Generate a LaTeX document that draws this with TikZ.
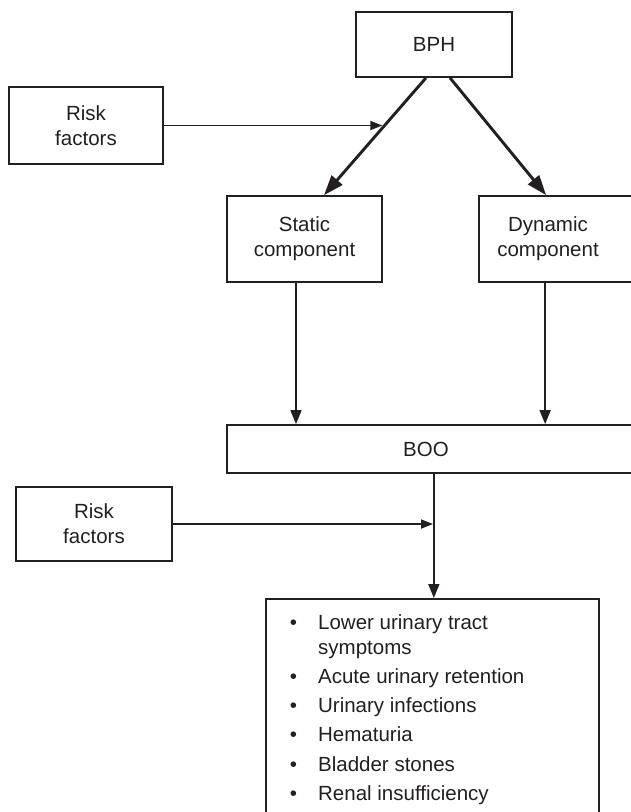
\documentclass[tikz,border=0pt]{standalone}
\usepackage{fontspec}
\setmainfont{Liberation Sans}
\usetikzlibrary{arrows.meta,calc}
\definecolor{ink}{RGB}{35,31,32}
\begin{document}
\begin{tikzpicture}[x=1pt,y=-1pt,
  box/.style={draw=ink, line width=1.7pt, rectangle, inner sep=0pt, text=ink, align=center, font=\fontsize{20.5}{25}\selectfont},
  txt/.style={text=ink, align=center, inner sep=0pt, font=\fontsize{20.5}{25}\selectfont},
  thickarrow/.style={draw=ink, line width=2.9pt, -{Triangle[length=20pt,width=14pt]}},
  thinarrow/.style={draw=ink, line width=1.7pt, -{Triangle[length=14pt,width=11pt]}},
  sidearrow/.style={draw=ink, line width=1.7pt, -{Triangle[length=12pt,width=9pt]}},
]
\useasboundingbox (0,0) rectangle (631,812);
\clip (0,0) rectangle (631,812);

% boxes
\node[box, minimum width=156pt, minimum height=65pt] (bph) at (434,44.5) {BPH};
\node[box, minimum width=154pt, minimum height=77pt] (risk1) at (86,125.5) {Risk\\factors};
\node[box, minimum width=155pt, minimum height=86pt] (static) at (304.5,239) {Static\\component};
\node[box, minimum width=181pt, minimum height=86pt] (dyn) at (569.5,239) {};
\node[txt] (dyntext) at (548,239) {Dynamic\\component};
\node[box, minimum width=433pt, minimum height=48pt] (boo) at (443.5,449) {};
\node[txt] (bootext) at (426,449) {BOO};
\node[box, minimum width=156pt, minimum height=74pt] (risk2) at (94,524) {Risk\\factors};
\node[box, minimum width=333pt, minimum height=240pt, anchor=north west] (eff) at (265,598) {};
\node[txt, anchor=base west, align=left] (efftext) at (289.7,629.3) {%
\renewcommand{\arraystretch}{1}%
\begin{tabular}[t]{@{}l@{\hspace{21.1pt}}l@{}}
\textbullet & Lower urinary tract\\
 & symptoms\\[4.2pt]
\textbullet & Acute urinary retention\\[4.2pt]
\textbullet & Urinary infections\\[4.2pt]
\textbullet & Hematuria\\[4.2pt]
\textbullet & Bladder stones\\[4.2pt]
\textbullet & Renal insufficiency
\end{tabular}};

% connectors
\coordinate (p1) at ([xshift=-8pt]bph.south);
\coordinate (p2) at ([xshift=19.5pt]static.north);
\draw[thickarrow] (p1) -- (p2);
\coordinate (p3) at ([xshift=16pt]bph.south);
\coordinate (p4) at ([xshift=68pt]dyn.north west);
\draw[thickarrow] (p3) -- (p4);

\coordinate (m1) at ($(p1)!0.41!(p2)+(-1.9,0)$);
\draw[sidearrow] (risk1.east) -- (risk1.east -| m1);

\coordinate (s1) at ([xshift=-8.5pt]static.south);
\draw[thinarrow] (s1) -- (s1 |- boo.north);
\coordinate (d1) at ([xshift=67pt]dyn.south west);
\draw[thinarrow] (d1) -- (d1 |- boo.north);

\coordinate (b1) at ([xshift=1.5pt]eff.north);
\draw[thinarrow] (b1 |- boo.south) -- (b1);
\coordinate (m2) at ($(b1 |- risk2.east)+(-0.85,0)$);
\draw[sidearrow] (risk2.east) -- (m2);
\end{tikzpicture}
\end{document}
